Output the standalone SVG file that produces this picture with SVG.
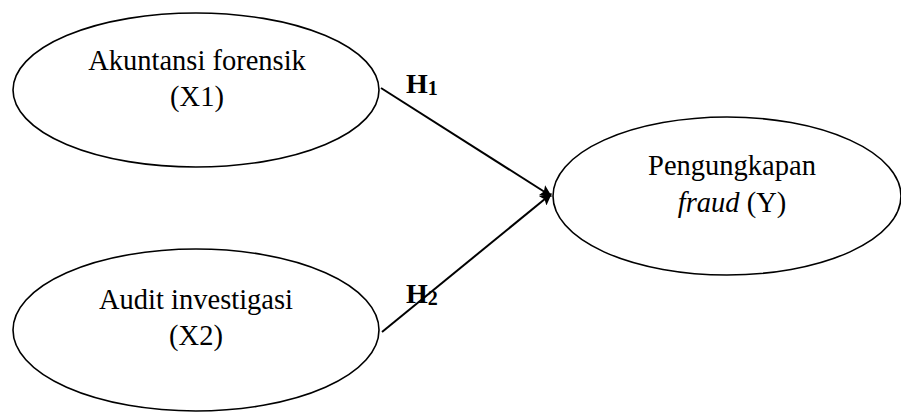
<svg xmlns="http://www.w3.org/2000/svg" width="901" height="416" viewBox="0 0 901 416">
<defs>
<style>
.node ellipse{fill:#fff;stroke:#000;stroke-width:1.6}
.t{font-family:"Liberation Serif","Times New Roman",serif;font-size:28.5px;fill:#000;text-anchor:middle}
.h{font-family:"Liberation Serif","Times New Roman",serif;font-size:28px;font-weight:bold;fill:#000}
.edge{stroke:#000;stroke-width:2;fill:none;marker-end:url(#ah)}
</style>
<marker id="ah" viewBox="0 0 10 10" refX="9" refY="5" markerWidth="6" markerHeight="6" orient="auto" markerUnits="strokeWidth">
<path d="M0,0 L10,5 L0,10 L2,5 z" fill="#000"/>
</marker>
</defs>
<rect width="901" height="416" fill="#fff"/>
<g id="connectors">
<line class="edge" x1="381" y1="88" x2="551" y2="196"/>
<line class="edge" x1="382" y1="332" x2="551" y2="194"/>
</g>
<g id="x1" class="node">
<ellipse cx="196" cy="90" rx="183" ry="77"/>
<text class="t" x="197" y="70">Akuntansi forensik</text>
<text class="t" x="197" y="106">(X1)</text>
</g>
<g id="x2" class="node">
<ellipse cx="196" cy="330" rx="183" ry="81"/>
<text class="t" x="196" y="309">Audit investigasi</text>
<text class="t" x="196" y="345">(X2)</text>
</g>
<g id="y" class="node">
<ellipse cx="727" cy="196" rx="174" ry="79"/>
<text class="t" x="732" y="175">Pengungkapan</text>
<text class="t" x="732" y="212"><tspan font-style="italic">fraud</tspan> (Y)</text>
</g>
<g id="labels">
<text class="h" x="406" y="93">H<tspan font-size="20" dy="2">1</tspan></text>
<text class="h" x="406" y="303">H<tspan font-size="20" dy="2">2</tspan></text>
</g>
</svg>
